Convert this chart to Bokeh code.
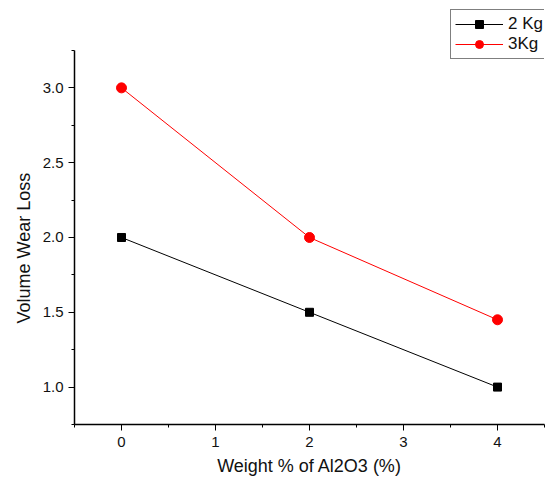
from bokeh.plotting import figure
from bokeh.models import Range1d, Legend, LegendItem, FixedTicker, CustomJSTickFormatter, Title
from bokeh.embed import file_html
from bokeh.resources import INLINE

# Data
weight_pct = [0, 2, 4]
loss_2kg = [2.0, 1.5, 1.0]
loss_3kg = [3.0, 2.0, 1.45]
series_names = ["2 Kg", "3Kg"]
x_ticks = [0, 1, 2, 3, 4]
x_minor = [-0.5, 0.5, 1.5, 2.5, 3.5, 4.5]
y_ticks = [1.0, 1.5, 2.0, 2.5, 3.0]
y_minor = [0.75, 1.25, 1.75, 2.25, 2.75, 3.25]

FONT = "Liberation Sans"

p = figure(width=545, height=482, output_backend="svg", toolbar_location=None,
           x_range=Range1d(-0.5, 4.5), y_range=Range1d(0.75, 3.584),
           min_border_left=74, min_border_right=1, min_border_top=0, min_border_bottom=58)
p.outline_line_color = None
p.xgrid.visible = False
p.ygrid.visible = False
p.background_fill_color = "white"
p.border_fill_color = "white"

r1l = p.line(weight_pct, loss_2kg, line_color="black", line_width=1)
r1m = p.scatter(weight_pct, loss_2kg, marker="square", size=8, fill_color="black", line_color="black")
r2l = p.line(weight_pct, loss_3kg, line_color="#FF0000", line_width=1)
r2m = p.scatter(weight_pct, loss_3kg, marker="circle", size=10, fill_color="#FF0000", line_color="#FF0000")

for ax in (p.xaxis[0], p.yaxis[0]):
    ax.axis_line_width = 1.5
    ax.axis_line_color = "black"
    ax.major_tick_line_color = "black"
    ax.minor_tick_line_color = "black"
    ax.major_tick_in = 0
    ax.major_tick_out = 6
    ax.minor_tick_in = 0
    ax.minor_tick_out = 3
    ax.major_label_text_font = FONT
    ax.major_label_text_font_size = "15px"
    ax.major_label_text_color = "#111111"
    ax.axis_label_text_font = FONT
    ax.axis_label_text_font_size = "18px"
    ax.axis_label_text_font_style = "normal"
    ax.axis_label_text_color = "#111111"

p.xaxis.ticker = FixedTicker(ticks=x_ticks, minor_ticks=x_minor)
p.yaxis.ticker = FixedTicker(ticks=y_ticks, minor_ticks=y_minor)
p.yaxis.formatter = CustomJSTickFormatter(code="return tick.toFixed(1);")
p.yaxis.bounds = (y_minor[0], y_minor[-1])

p.xaxis.axis_label = "Weight % of Al2O3 (%)"
p.xaxis.major_label_standoff = 6
p.xaxis.axis_label_standoff = 6
p.yaxis.major_label_standoff = 5

# y axis title placed as a side-panel title so it can sit lower than the frame centre
ytitle = Title(text="Volume Wear Loss", align="left", offset=101,
               text_font=FONT, text_font_size="18px", text_font_style="normal",
               text_color="#111111", standoff=12)
p.add_layout(ytitle, "left")

legend = Legend(items=[LegendItem(label=series_names[0], renderers=[r1l, r1m]),
                       LegendItem(label=series_names[1], renderers=[r2l, r2m])],
                location=(376, 365))
legend.label_text_font = FONT
legend.label_text_font_size = "17px"
legend.label_text_color = "#111111"
legend.glyph_width = 48
legend.glyph_height = 20
legend.label_height = 20
legend.spacing = 0
legend.padding = 4
legend.margin = 0
legend.label_standoff = 5
legend.border_line_color = "black"
legend.border_line_width = 1
legend.background_fill_alpha = 1
p.add_layout(legend, "center")

open("out.html", "w").write(file_html(p, INLINE))
